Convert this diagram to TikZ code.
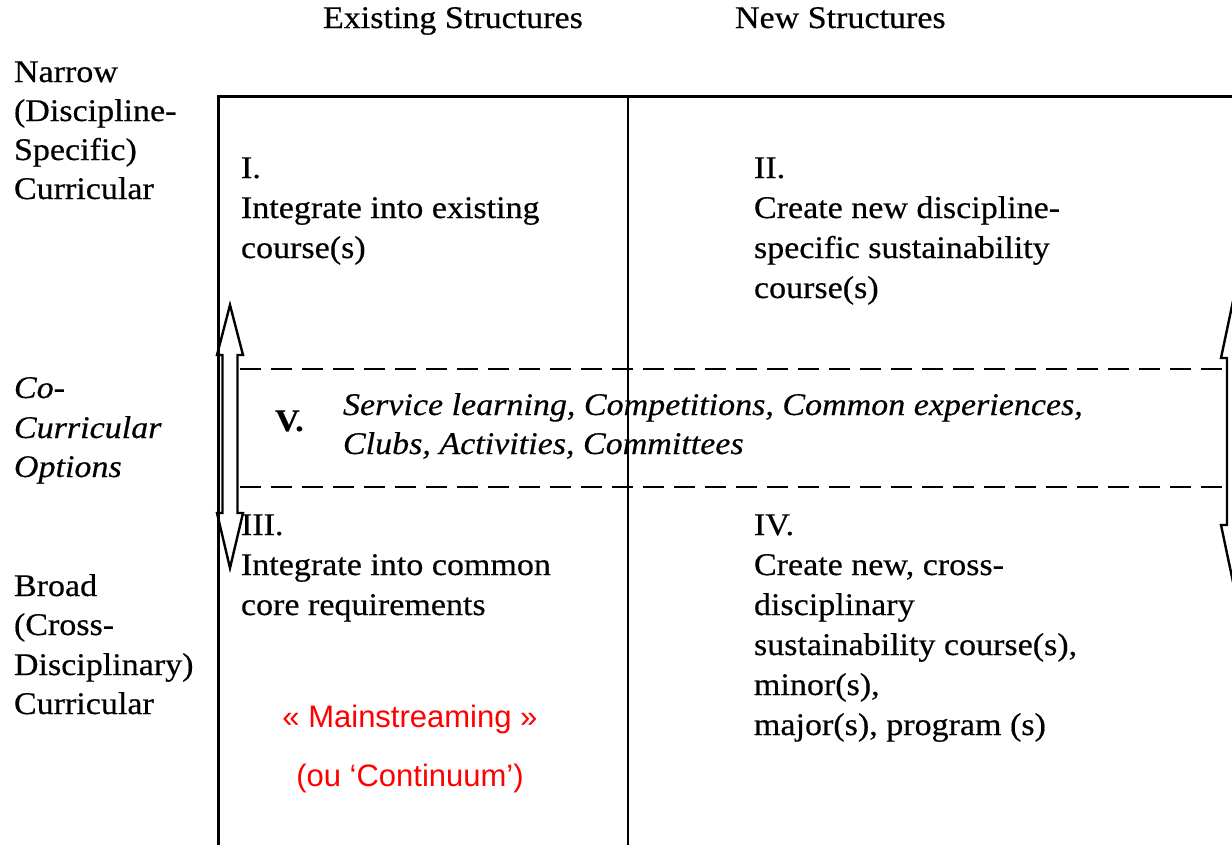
\documentclass[tikz,border=0pt]{standalone}
\usepackage{fontspec}
\setmainfont{Liberation Serif}[FakeBold=0.4]
\newfontfamily\redsans{Liberation Sans}
\begin{document}
\begin{tikzpicture}[x=1pt,y=-1pt,
  txt/.style={anchor=base west, inner sep=0pt, outer sep=0pt,
    font=\fontsize{31.5}{40}\selectfont, xscale=1.08},
  itx/.style={txt, font=\fontsize{31.5}{40}\selectfont\itshape},
  bfx/.style={txt, font=\fontsize{31.5}{40}\selectfont\bfseries},
  redtxt/.style={anchor=base, inner sep=0pt, outer sep=0pt,
    font=\fontsize{31}{36}\redsans, text={rgb,255:red,255;green,0;blue,0}},
  boxline/.style={line width=3pt, line cap=rect},
  midline/.style={line width=2.4pt},
  dashline/.style={line width=2.8pt, dash pattern=on 21pt off 10pt},
  blockarrow/.style={line width=2.4pt, line join=miter}]
\clip (0,0) rectangle (1232,844);
\fill[white] (0,0) rectangle (1232,844);

% frame
\coordinate (tl) at (218,96);
\coordinate (tr) at (1245,96);
\coordinate (bl) at (218,850);
\coordinate (tm) at (628,96);
\coordinate (bm) at (628,850);
\draw[boxline] (bl) -- (tl) -- (tr);
\draw[midline] (tm) -- (bm);

% dashed band
\coordinate (d1a) at (240,369);
\coordinate (d1b) at (1226,369);
\coordinate (d2a) at (240,487);
\coordinate (d2b) at (1226,487);
\draw[dashline] (d1a) -- (d1b);
\draw[dashline] (d2a) -- (d2b);

% left double block arrow
\draw[blockarrow] (230,305) -- (243,355) -- (237.5,355) -- (237.5,513) -- (243,513)
  -- (230,568) -- (217,513) -- (222.5,513) -- (222.5,355) -- (217,355) -- cycle;
% right double block arrow (cut by the edge)
\draw[blockarrow] (1234.5,294) -- (1248,358) -- (1242,358) -- (1242,525) -- (1248,525)
  -- (1234.5,589) -- (1221,525) -- (1227,525) -- (1227,358) -- (1221,358) -- cycle;

% headings
\node[txt] (h1) at (323,28) {Existing Structures};
\node[txt] (h2) at (735,28) {New Structures};

% left labels
\node[txt] (n1) at (14,82) {Narrow};
\node[txt] (n2) at (14,121) {(Discipline-};
\node[txt] (n3) at (14,160) {Specific)};
\node[txt] (n4) at (14,199) {Curricular};

\node[itx] (c1) at (14,398) {Co-};
\node[itx] (c2) at (14,438) {Curricular};
\node[itx] (c3) at (14,477) {Options};

\node[txt] (b1) at (14,596) {Broad};
\node[txt] (b2) at (14,635) {(Cross-};
\node[txt] (b3) at (14,675) {Disciplinary)};
\node[txt] (b4) at (14,714) {Curricular};

% quadrant I
\node[txt] (q1a) at (241,178) {I.};
\node[txt] (q1b) at (241,218) {Integrate into existing};
\node[txt] (q1c) at (241,258) {course(s)};

% quadrant II
\node[txt] (q2a) at (754,178) {II.};
\node[txt] (q2b) at (754,218) {Create new discipline-};
\node[txt] (q2c) at (754,258) {specific sustainability};
\node[txt] (q2d) at (754,298) {course(s)};

% band V
\node[bfx] (v0) at (275,431) {V.};
\node[itx] (v1) at (343,415) {Service learning, Competitions, Common experiences,};
\node[itx] (v2) at (343,454) {Clubs, Activities, Committees};

% quadrant III
\node[txt] (q3a) at (241,535) {III.};
\node[txt] (q3b) at (241,575) {Integrate into common};
\node[txt] (q3c) at (241,615) {core requirements};

% quadrant IV
\node[txt] (q4a) at (754,535) {IV.};
\node[txt] (q4b) at (754,575) {Create new, cross-};
\node[txt] (q4c) at (754,615) {disciplinary};
\node[txt] (q4d) at (754,655) {sustainability course(s),};
\node[txt] (q4e) at (754,695) {minor(s),};
\node[txt] (q4f) at (754,735) {major(s), program (s)};

% red note
\node[redtxt] (r1) at (410,727) {« Mainstreaming »};
\node[redtxt] (r2) at (410,786) {(ou ‘Continuum’)};
\end{tikzpicture}
\end{document}
